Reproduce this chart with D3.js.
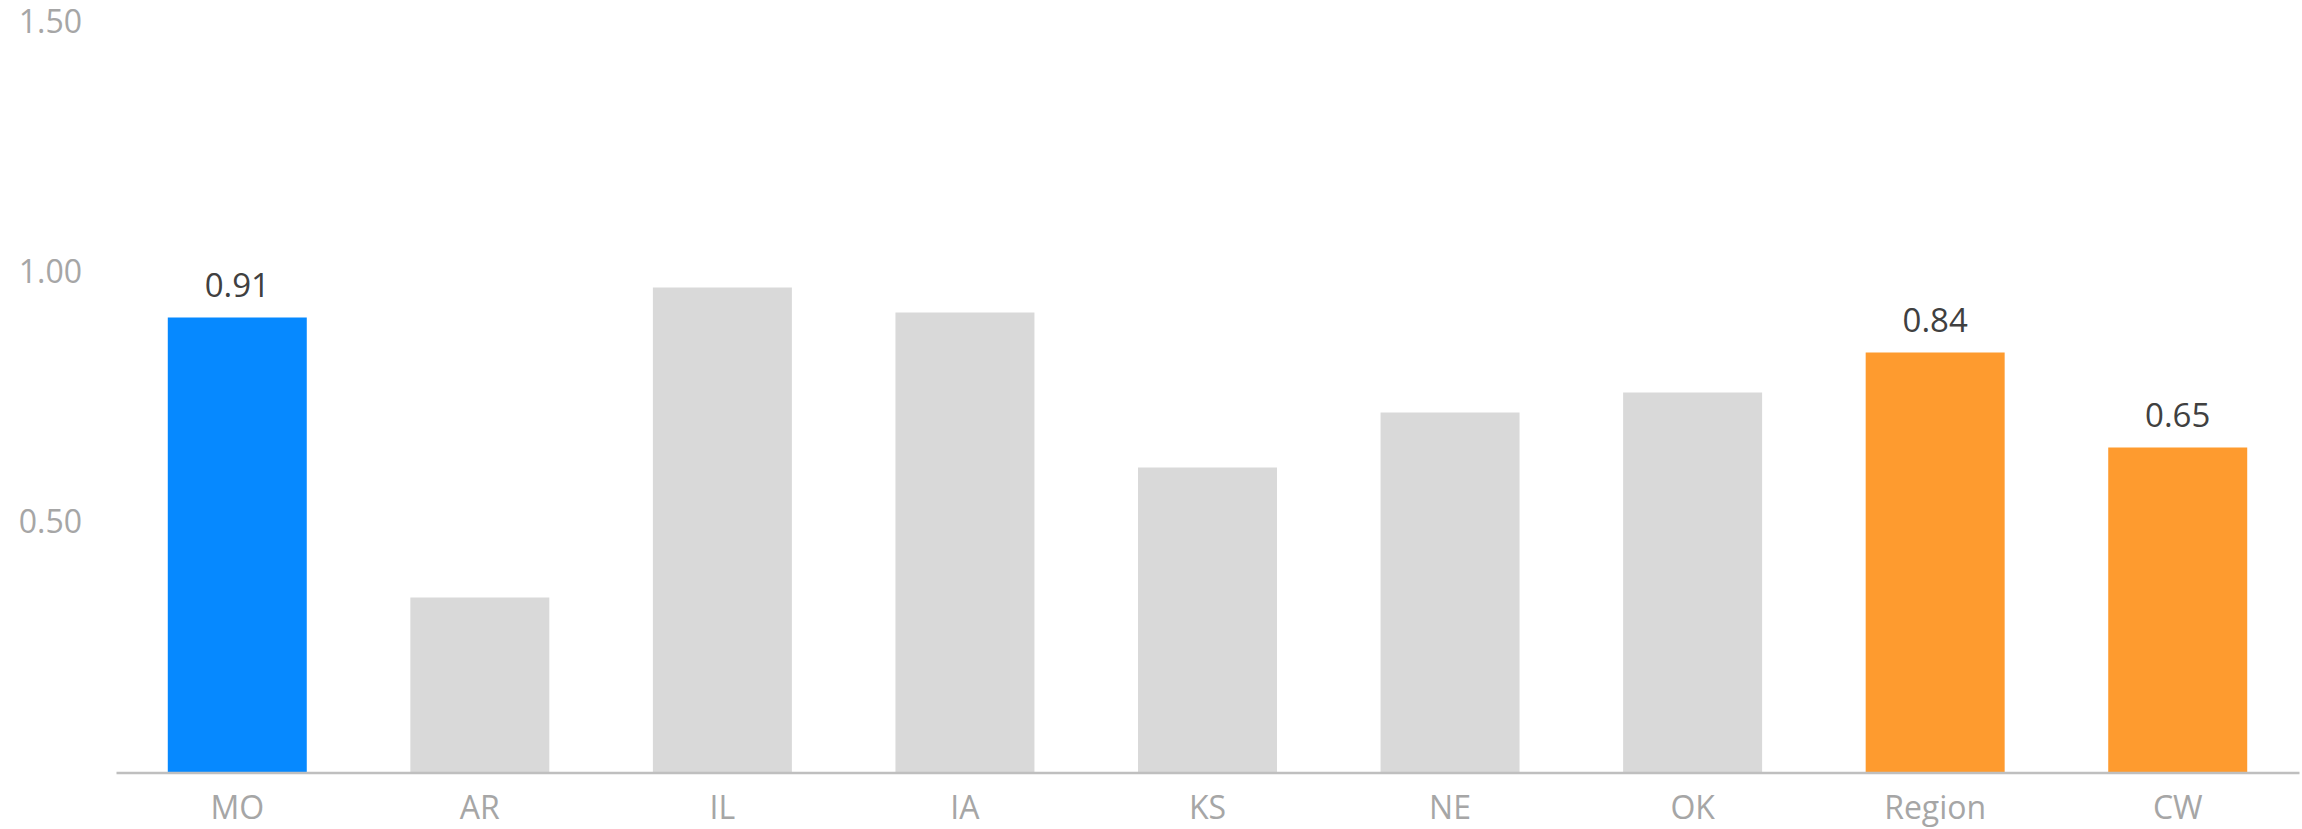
<!DOCTYPE html>
<html>
<head>
<meta charset="utf-8">
<script src="https://cdn.jsdelivr.net/npm/d3@7"></script>
<style>
  html, body { margin: 0; padding: 0; background: #fff; }
  text { font-family: "Open Sans", "Noto Sans", sans-serif; }
</style>
</head>
<body>
<svg id="chart"></svg>
<script>
'use strict';

const width = 2302, height = 829;

// data
const categories = ['MO', 'AR', 'IL', 'IA', 'KS', 'NE', 'OK', 'Region', 'CW'];
const values = [0.91, 0.35, 0.97, 0.92, 0.61, 0.72, 0.76, 0.84, 0.65];
const barColors = ['#0689FF', '#D9D9D9', '#D9D9D9', '#D9D9D9', '#D9D9D9', '#D9D9D9', '#D9D9D9', '#FE9B2F', '#FE9B2F'];
const labelled = ['MO', 'Region', 'CW'];
const yTicks = [0.5, 1.0, 1.5];

const data = categories.map((c, i) => ({ cat: c, value: values[i], color: barColors[i] }));

const svg = d3.select('#chart')
  .attr('width', width)
  .attr('height', height);

let x = d3.scaleBand()
  .domain(categories)
  .range([116, 2299])
  .paddingInner(0.427)
  .paddingOuter(0.2135);

let y = d3.scaleLinear()
  .domain([0, 1.5])
  .range([772.5, 22.5]);

// bars
svg.append('g')
  .selectAll('rect')
  .data(data)
  .join('rect')
    .attr('x', d => x(d.cat))
    .attr('y', d => y(d.value))
    .attr('width', x.bandwidth())
    .attr('height', d => y(0) - y(d.value))
    .attr('fill', d => d.color);

// value labels on highlighted bars
svg.append('g')
  .selectAll('text')
  .data(data.filter(d => labelled.includes(d.cat)))
  .join('text')
    .attr('x', d => x(d.cat) + x.bandwidth() / 2)
    .attr('y', d => y(d.value) - 21)
    .attr('text-anchor', 'middle')
    .attr('font-size', 33)
    .attr('fill', '#404040')
    .text(d => d3.format('.2f')(d.value));

// y axis (labels only)
let yAxis = svg.append('g')
  .attr('transform', 'translate(82,0)')
  .call(d3.axisLeft(y).tickValues(yTicks).tickFormat(d3.format('.2f')).tickSize(0).tickPadding(0));
yAxis.select('.domain').remove();
yAxis.selectAll('text')
  .attr('font-size', 32)
  .attr('fill', '#A6A6A6')
  .attr('font-family', '"Open Sans", "Noto Sans", sans-serif');

// x axis
let xAxis = svg.append('g')
  .attr('transform', `translate(0,${y(0)})`)
  .call(d3.axisBottom(x).tickSize(0).tickPadding(24).tickSizeOuter(0));
xAxis.select('.domain')
  .attr('stroke', '#BFBFBF')
  .attr('stroke-width', 2.5);
xAxis.selectAll('text')
  .attr('font-size', 32)
  .attr('fill', '#A6A6A6')
  .attr('font-family', '"Open Sans", "Noto Sans", sans-serif');
</script>
</body>
</html>
